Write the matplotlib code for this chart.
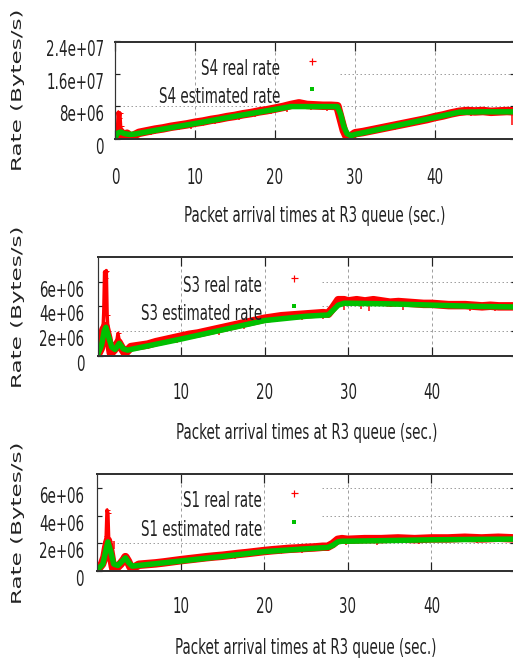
import os
import numpy as np
import matplotlib
matplotlib.use('Agg')
import matplotlib.pyplot as plt
import matplotlib.font_manager as fm
from matplotlib.transforms import ScaledTranslation

NaN = float('nan')

# ---------------- data (rates in Bytes/s, times in sec) ----------------
# S4
s4_est_t = [0, 0.3, 0.7, 1.2, 1.8, 2.5, 5, 10, 15, 20, 22, 25, 27.8, 28.2, 28.6, 29.0, 29.5, 30, 35, 40, 43, 46, 50]
s4_est_v = [0.1e6, 1.3e6, 1.6e6, 1.2e6, 1.0e6, 1.1e6, 2.0e6, 3.7e6, 5.5e6, 7.2e6, 7.9e6, 7.9e6, 7.9e6,
            6.0e6, 3.0e6, 1.2e6, 0.7e6, 1.0e6, 3.1e6, 5.2e6, 6.5e6, 6.6e6, 6.6e6]
s4_real_t = [0, 0.3, 0.7, 1.1, 1.5, 2, 3, 4, 5, 6, 7, 8, 9, 10, 11, 12, 13, 14, 15, 16, 17,
             18, 19, 20, 21, 22, 23, 24, 25, 26, 27, 27.8, 28.2, 28.6, 29, 29.5, 30, 31, 32, 33, 34, 35, 36,
             37, 38, 39, 40, 41, 42, 43, 44, 45, 46, 47, 48, 49, 50]
s4_real_v = [0.2e6, 1.4e6, 1.7e6, 0.5e6, 1.2e6, 0.4e6, 1.4e6, 1.8e6, 2.2e6, 2.5e6,
             2.9e6, 3.2e6, 3.5e6, 3.9e6, 4.2e6, 4.6e6, 4.9e6, 5.3e6, 5.6e6, 6.0e6, 6.3e6, 6.7e6, 7.0e6,
             7.4e6, 7.8e6, 8.3e6, 8.7e6, 8.3e6, 8.2e6, 8.1e6, 8.1e6, 8.0e6, 5.0e6, 2.0e6, 0.3e6, 0.6e6,
             1.3e6, 1.6e6, 2.0e6, 2.4e6, 2.8e6, 3.2e6, 3.6e6, 4.0e6, 4.4e6, 4.8e6, 5.3e6, 5.7e6, 6.2e6,
             6.6e6, 6.8e6, 6.7e6, 6.8e6, 6.6e6, 6.7e6, 6.8e6, 6.7e6]
s4_burst_t = [0.3, 0.4, 0.5, 0.6, 0.7, 0.85]
s4_burst_v = [1.4e6, 6.5e6, 5.0e6, 6.3e6, 3.0e6, 1.5e6]
s4_spike_t = [1.3, 2.5, 4.5, 6.5, 9.5, 12.5, 15.5, 17.5, 19.5, 21.5, 24.5, 26.5, 28.9, 33.5, 37.5, 44.5, 49.6]
s4_spike_hi = [0.8e6, 0.9e6, 1.8e6, 2.6e6, 3.6e6, 4.7e6, 5.7e6, 6.4e6, 7.0e6, 7.7e6, 8.0e6, 8.0e6, 0.5e6,
               2.6e6, 4.1e6, 6.5e6, 6.6e6]
s4_spike_lo = [0.0, 0.0, 0.9e6, 1.8e6, 2.4e6, 3.7e6, 4.6e6, 5.2e6, 6.0e6, 6.6e6, 7.0e6, 6.9e6, -0.5e6,
               1.9e6, 3.3e6, 5.5e6, 3.3e6]

# S3
s3_est_t = [0, 0.5, 0.8, 1.0, 1.3, 1.7, 2.1, 2.6, 3.1, 3.6, 5, 10, 15, 20, 25, 27.6, 28.2, 28.8, 29.5,
            30, 35, 40, 45, 50]
s3_est_v = [0.05e6, 0.9e6, 2.0e6, 2.3e6, 1.6e6, 0.7e6, 0.5e6, 1.0e6, 0.55e6, 0.45e6, 0.65e6, 1.35e6,
            2.1e6, 2.85e6, 3.2e6, 3.3e6, 3.7e6, 4.1e6, 4.25e6, 4.25e6, 4.2e6, 4.1e6, 4.0e6, 3.95e6]
s3_real_t = [0, 0.4, 0.7, 0.95, 1.3, 1.6, 2.0, 2.5, 3.0, 3.3, 4, 5, 6, 7, 8,
             9, 10, 11, 12, 13, 14, 15, 16, 17, 18, 19, 20, 21, 22, 23, 24, 25, 26, 27, 27.6, 28.2, 28.8,
             29.5, 30, 31, 32, 33, 34, 35, 36, 37, 38, 39, 40, 41, 42, 43, 44, 45, 46, 47, 48, 49, 50]
s3_real_v = [0.05e6, 0.6e6, 2.1e6, 2.4e6, 1.4e6, 0.2e6, 0.5e6, 1.1e6, 0.5e6, 0.2e6,
             0.7e6, 0.8e6, 0.9e6, 1.1e6, 1.25e6, 1.4e6, 1.55e6, 1.7e6, 1.8e6, 1.95e6,
             2.1e6, 2.25e6, 2.4e6, 2.55e6, 2.7e6, 2.85e6, 3.0e6, 3.1e6, 3.2e6, 3.25e6, 3.3e6, 3.35e6,
             3.4e6, 3.45e6, 3.4e6, 3.9e6, 4.5e6, 4.5e6, 4.4e6, 4.5e6, 4.4e6, 4.5e6, 4.4e6, 4.3e6, 4.35e6,
             4.3e6, 4.25e6, 4.2e6, 4.2e6, 4.15e6, 4.1e6, 4.1e6, 4.1e6, 4.05e6, 4.0e6, 4.05e6, 4.0e6,
             4.0e6, 4.0e6]
s3_burst_t = [0.6, 0.75, 0.85, 0.95, 1.05, 1.15, 1.3, NaN, 2.2, 2.45, 2.7]
s3_burst_v = [1.2e6, 3.5e6, 6.8e6, 6.3e6, 6.9e6, 3.3e6, 1.4e6, NaN, 0.7e6, 1.8e6, 0.8e6]
s3_spike_t = [1.9, 3.4, 9.5, 14.5, 17.5, 21.5, 24.5, 27.0, 29.5, 31.5, 32.5, 36.5, 44.5, 47.5]
s3_spike_hi = [0.3e6, 0.3e6, 1.4e6, 2.1e6, 2.6e6, 3.1e6, 3.3e6, 3.4e6, 4.4e6, 4.4e6, 4.4e6, 4.3e6, 4.1e6,
               4.0e6]
s3_spike_lo = [-0.1e6, -0.1e6, 1.0e6, 1.7e6, 2.2e6, 2.7e6, 2.9e6, 3.0e6, 3.7e6, 3.8e6, 3.6e6, 3.7e6,
               3.6e6, 3.6e6]

# S1
s1_est_t = [0, 0.7, 1.1, 1.3, 1.6, 2.0, 2.5, 3.0, 3.4, 3.8, 4.2, 5, 10, 15, 20, 25, 27.6, 28.2, 28.8,
            29.3, 30, 35, 40, 45, 50]
s1_est_v = [0.05e6, 0.5e6, 1.6e6, 2.1e6, 1.5e6, 0.5e6, 0.4e6, 0.7e6, 0.95e6, 0.6e6, 0.35e6, 0.4e6,
            0.72e6, 1.05e6, 1.4e6, 1.6e6, 1.7e6, 1.85e6, 2.1e6, 2.15e6, 2.15e6, 2.2e6, 2.25e6, 2.28e6,
            2.3e6]
s1_real_t = [0, 0.6, 0.9, 1.1, 1.3, 1.6, 1.9, 2.3, 2.8, 3.2, 3.4, 3.7, 4.0, 4.3, 5, 6, 7, 8, 9,
             10, 11, 12, 13, 14, 15, 16, 17, 18, 19, 20, 21, 22, 23, 24, 25, 26, 27, 27.6, 28.2, 28.8,
             29.3, 30, 32, 34, 36, 38, 40, 42, 44, 46, 48, 50]
s1_real_v = [0.05e6, 0.5e6, 1.0e6, 1.7e6, 2.2e6, 1.4e6, 0.3e6, 0.2e6, 0.5e6, 0.8e6, 1.0e6,
             0.7e6, 0.3e6, 0.2e6, 0.45e6, 0.5e6, 0.55e6, 0.62e6, 0.7e6, 0.78e6, 0.85e6, 0.92e6, 0.99e6,
             1.05e6, 1.1e6, 1.17e6, 1.24e6, 1.3e6, 1.37e6, 1.44e6, 1.5e6, 1.55e6, 1.6e6, 1.63e6, 1.67e6,
             1.7e6, 1.75e6, 1.75e6, 1.95e6, 2.25e6, 2.3e6, 2.25e6, 2.3e6, 2.3e6, 2.35e6, 2.3e6, 2.35e6,
             2.35e6, 2.4e6, 2.35e6, 2.4e6, 2.35e6]
s1_burst_t = [0.95, 1.1, 1.2, 1.3, 1.4, 1.55]
s1_burst_v = [1.0e6, 2.5e6, 4.4e6, 4.2e6, 2.2e6, 0.8e6]
s1_spike_t = [1.6, 2.0, 4.5, 8.5, 16.5, 24.5, 29.8, 33.5, 38.5, 45.5]
s1_spike_hi = [0.5e6, 2.2e6, 0.3e6, 0.65e6, 1.2e6, 1.6e6, 2.25e6, 2.3e6, 2.3e6, 2.35e6]
s1_spike_lo = [0.0, 1.6e6, -0.1e6, 0.35e6, 0.9e6, 1.3e6, 1.85e6, 1.9e6, 1.95e6, 2.0e6]

y_ticks_1 = [0, 8e6, 1.6e7, 2.4e7]
y_labels_1 = ['0', '8e+06', '1.6e+07', '2.4e+07']
y_ticks_23 = [0, 2e6, 4e6, 6e6]
y_labels_23 = ['0', '2e+06', '4e+06', '6e+06']
x_ticks_1 = [0, 10, 20, 30, 40]
x_ticks_23 = [10, 20, 30, 40]

# ---------------- fonts ----------------
# The reference image is squeezed horizontally; build real condensed / flattened
# variants of DejaVu Sans so the text stays real text with correct metrics.
SQ = 0.61


def make_font(src, dst, family, sx, sy):
    from fontTools.ttLib import TTFont
    from fontTools.ttLib.tables import ttProgram
    f = TTFont(src)
    glyf = f['glyf']
    hmtx = f['hmtx'].metrics
    for name in f.getGlyphOrder():
        g = glyf[name]
        if g.isComposite():
            for c in g.components:
                if hasattr(c, 'x'):
                    c.x = int(round(c.x * sx))
                    c.y = int(round(c.y * sy))
        elif g.numberOfContours > 0:
            g.coordinates.scale((sx, sy))
            g.coordinates.toInt()
        if hasattr(g, 'program'):
            p = ttProgram.Program()
            p.fromBytecode(b'')
            g.program = p
        adv, lsb = hmtx[name]
        hmtx[name] = (int(round(adv * sx)), int(round(lsb * sx)))
    if 'kern' in f:
        for st in f['kern'].kernTables:
            for k in list(st.kernTable.keys()):
                st.kernTable[k] = int(round(st.kernTable[k] * sx))
    for tag in ('fpgm', 'prep', 'cvt ', 'hdmx', 'LTSH', 'VDMX'):
        if tag in f:
            del f[tag]
    hh = f['hhea']
    hh.ascent = int(round(hh.ascent * sy))
    hh.descent = int(round(hh.descent * sy))
    if 'OS/2' in f:
        o = f['OS/2']
        for a in ('sTypoAscender', 'sTypoDescender', 'usWinAscent', 'usWinDescent', 'sxHeight', 'sCapHeight'):
            if hasattr(o, a):
                setattr(o, a, int(round(getattr(o, a) * sy)))
    for rec in f['name'].names:
        if rec.nameID in (1, 4, 16):
            rec.string = family
        elif rec.nameID == 6:
            rec.string = family.replace(' ', '')
    f.save(dst)
    fm.fontManager.addfont(dst)


H_FAMILY, V_FAMILY = 'DejaVu Sans', 'DejaVu Sans'
FS_H, FS_V = 15, 17
try:
    src = fm.findfont(fm.FontProperties(family='DejaVu Sans'))
    make_font(src, os.path.abspath('dvs_squeezed.ttf'), 'DejaVu Sans Squeezed', SQ, 1.0)
    make_font(src, os.path.abspath('dvs_flat.ttf'), 'DejaVu Sans Flat', 1.0, SQ)
    H_FAMILY, V_FAMILY = 'DejaVu Sans Squeezed', 'DejaVu Sans Flat'
    FS_H, FS_V = 22, 23
except Exception:
    pass

# ---------------- styling ----------------
W, H, DPI = 513, 661, 72
plt.rcParams['font.family'] = [H_FAMILY, 'DejaVu Sans']
TXT = '#222222'
RED = '#ff0000'
GREEN = '#00c000'
GRID = '#a0a0a0'

fig = plt.figure(figsize=(W / DPI, H / DPI), dpi=DPI)

panels = [
    dict(name='S4', box=(115, 41.5, 515, 138.5), ymax=2.4e7, yt=y_ticks_1, yl=y_labels_1, xt=x_ticks_1,
         est=(s4_est_t, s4_est_v), real=(s4_real_t, s4_real_v), burst=(s4_burst_t, s4_burst_v),
         spk=(s4_spike_t, s4_spike_lo, s4_spike_hi),
         leg_x=280, mk_x=312, rows=(69, 97), hstart=340, legbot=100, ypad=11, xpad=29),
    dict(name='S3', box=(97.5, 257, 515.5, 355.7), ymax=8e6, yt=y_ticks_23, yl=y_labels_23, xt=x_ticks_23,
         est=(s3_est_t, s3_est_v), real=(s3_real_t, s3_real_v), burst=(s3_burst_t, s3_burst_v),
         spk=(s3_spike_t, s3_spike_lo, s3_spike_hi),
         leg_x=262, mk_x=294, rows=(286, 314), hstart=322, legbot=320, ypad=13, xpad=27),
    dict(name='S1', box=(97, 474, 515, 571), ymax=7e6, yt=y_ticks_23, yl=y_labels_23, xt=x_ticks_23,
         est=(s1_est_t, s1_est_v), real=(s1_real_t, s1_real_v), burst=(s1_burst_t, s1_burst_v),
         spk=(s1_spike_t, s1_spike_lo, s1_spike_hi),
         leg_x=262, mk_x=294, rows=(501, 530), hstart=322, legbot=530, ypad=13, xpad=26),
]

axes = []
for p in panels:
    l, t, r, b = p['box']
    ax = fig.add_axes([l / W, 1 - b / H, (r - l) / W, (b - t) / H])
    axes.append(ax)
    ax.set_xlim(0, 50)
    ax.set_ylim(0, p['ymax'])
    wpx, hpx = r - l, b - t

    # grid (hidden behind the key area, as in gnuplot)
    for v in p['yt']:
        if v <= 0 or v >= p['ymax']:
            continue
        ypx = b - v / p['ymax'] * hpx
        xmin = (p['hstart'] - l) / wpx if ypx < p['legbot'] else 0
        ax.axhline(v, xmin=xmin, color=GRID, lw=1, ls=(0, (1.5, 2.5)), zorder=0.5)
    for v in p['xt']:
        if v > 0:
            ax.axvline(v, color=GRID, lw=1, ls=(0, (3, 3)), zorder=0.5)

    # data
    rt, rv = p['real']
    bt, bv = p['burst']
    et, ev = p['est']
    st, slo, shi = p['spk']
    ax.plot(rt, rv, color=RED, lw=8.5, solid_joinstyle='round', solid_capstyle='round', zorder=2)
    ax.plot(rt, rv, ls='none', marker='+', ms=5, mew=1.0, color=RED, zorder=2)
    ax.plot(bt, bv, color=RED, lw=3.5, solid_joinstyle='round', zorder=2)
    ax.plot(bt, bv, ls='none', marker='+', ms=5, mew=1.0, color=RED, zorder=2)
    ax.vlines(st, slo, shi, color=RED, lw=1.5, zorder=2)
    ax.plot(et, ev, color=GREEN, lw=5.5, solid_joinstyle='round', zorder=3)

    # key (gnuplot style: right-justified text, sample on the right)
    lx = (p['leg_x'] - l) / wpx
    mx = (p['mk_x'] - l) / wpx
    y1 = (b - p['rows'][0]) / hpx
    y2 = (b - p['rows'][1]) / hpx
    mk_dy = 8 / hpx
    ax.text(lx, y1, f"{p['name']} real rate", transform=ax.transAxes, ha='right', va='center',
            fontsize=FS_H, color=TXT, zorder=5)
    ax.text(lx, y2, f"{p['name']} estimated rate", transform=ax.transAxes, ha='right', va='center',
            fontsize=FS_H, color=TXT, zorder=5)
    ax.plot([mx], [y1 + mk_dy], transform=ax.transAxes, marker='+', ms=7, mew=1.2, color=RED,
            ls='none', zorder=5)
    ax.plot([mx], [y2 + mk_dy], transform=ax.transAxes, marker='s', ms=3.5, mew=0, color=GREEN,
            ls='none', zorder=5)

    # axes / ticks
    ax.set_yticks(p['yt'])
    ax.set_yticklabels(p['yl'])
    ax.set_xticks(p['xt'])
    ax.set_xticklabels([str(v) for v in p['xt']])
    ax.tick_params(axis='x', direction='in', length=9, width=1.2, top=True, bottom=True,
                   color='#222222', labelsize=FS_H, labelcolor=TXT, pad=p['xpad'])
    ax.tick_params(axis='y', direction='in', length=5, width=1.2, left=True, right=True,
                   color='#222222', labelsize=FS_H, labelcolor=TXT, pad=p['ypad'])
    for side in ('top', 'bottom'):
        ax.spines[side].set_linewidth(2)
        ax.spines[side].set_color('#333333')
    for side in ('left', 'right'):
        ax.spines[side].set_linewidth(1.2)
        ax.spines[side].set_color('#333333')
    for sp in ax.spines.values():
        sp.set_zorder(6)

    ax.set_xlabel('Packet arrival times at R3 queue (sec.)', fontsize=FS_H, color=TXT, va='center')
    ax.xaxis.set_label_coords(0.5, -77 / hpx)
    ax.set_ylabel('Rate (Bytes/s)', fontsize=FS_V, color=TXT, va='center', ha='center',
                  family=[V_FAMILY, 'DejaVu Sans'])
    ax.yaxis.set_label_coords((18 - l) / wpx, 0.5)

fig.canvas.draw()

off = ScaledTranslation(0, -7 / DPI, fig.dpi_scale_trans)
for ax in axes:
    for lbl in ax.get_yticklabels():
        lbl.set_transform(lbl.get_transform() + off)

fig.savefig('out.png', dpi=DPI)
